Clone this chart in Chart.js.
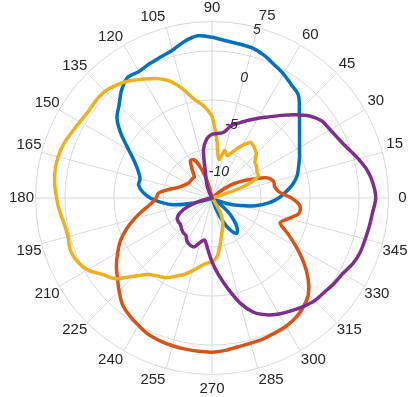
<!DOCTYPE html>
<html>
<head>
<meta charset="utf-8">
<script src="https://cdn.jsdelivr.net/npm/chart.js@4/dist/chart.umd.min.js"></script>
<style>
  html, body { margin: 0; padding: 0; background: #fff; }
  #wrap { width: 417px; height: 397px; }
</style>
</head>
<body>
<div id="wrap"><canvas id="polar"></canvas></div>
<script>
// angles in degrees, counter-clockwise from east, 5 degree steps
const angles = [
  0, 5, 10, 15, 20, 25, 30, 35, 40, 45, 50, 55,
  60, 65, 70, 75, 80, 85, 90, 95, 100, 105, 110, 115,
  120, 125, 130, 135, 140, 145, 150, 155, 160, 165, 170, 175,
  180, 185, 190, 195, 200, 205, 210, 215, 220, 225, 230, 235,
  240, 245, 250, 255, 260, 265, 270, 275, 280, 285, 290, 295,
  300, 305, 310, 315, 320, 325, 330, 335, 340, 345, 350, 355
]

const blue = [
  -6.2, -5.4, -4.6, -4.0, -3.6, -3.15, -2.7, -2.1, -1.35, -0.4, 0.7, 1.1,
  1.6, 2.0, 2.5, 2.85, 2.95, 3.1, 3.4, 3.6, 3.2, 2.6, 2.3, 2.1,
  1.9, 2.0, 1.35, 0.4, -0.35, -1.7, -3.2, -4.3, -5.0, -5.4, -5.4, -5.9,
  -6.7, -7.8, -9.0, -10.9, -12.5, -13, -13, -13, -13, -13, -13, -13,
  -13, -13, -13, -13, -13, -13, -13, -13, -13, -13, -11.8, -10.3,
  -9.2, -8.6, -9.0, -9.9, -11.0, -12.5, -13, -12.5, -11.3, -10.0, -8.5, -7.2
]

const orange = [
  -4.9, -6.1, -6.5, -6.5, -7.0, -8.5, -9.6, -10.7, -12, -13, -13, -13,
  -13, -13, -13, -13, -13, -13, -13, -13, -13, -11.5, -9.8, -8.7,
  -8.6, -9.5, -10.2, -10.2, -10.2, -10.2, -10.1, -9.9, -9.6, -9.1, -8.3, -7.5,
  -7.3, -6.8, -5.9, -4.8, -3.7, -2.7, -1.9, -1.1, -0.4, 0.4, 1.2, 1.65,
  2.0, 2.35, 2.5, 2.6, 2.65, 2.7, 2.72, 2.6, 2.4, 2.32, 2.28, 2.2,
  2.1, 1.9, 1.5, 0.9, -0.2, -1.6, -3.1, -4.5, -5.6, -4.9, -4.0, -4.0
]

const yellow = [
  -13, -13, -13, -12.5, -9.5, -7.8, -7.7, -7.45, -7.3, -6.6, -6.3, -6.1,
  -6.8, -7.7, -8.4, -8.0, -9.0, -7.2, -4.7, -3.6, -2.8, -1.5, -0.3, 0.45,
  1.0, 1.6, 2.07, 2.4, 2.45, 2.4, 2.55, 2.8, 3.1, 3.25, 3.25, 3.1,
  2.85, 2.6, 2.3, 2.2, 2.4, 2.2, 1.65, 0.6, -0.2, -1.7, -2.8, -3.3,
  -3.6, -4.2, -4.7, -5.3, -5.9, -6.3, -6.5, -7.0, -8.2, -9.2, -9.8, -10.5,
  -11.3, -12.5, -13, -13, -13, -13, -13, -13, -13, -13, -13, -13
]

const purple = [
  3.7, 3.5, 3.1, 2.45, 1.75, 1.25, 0.92, 0.68, 0.0, -1.0, -2.0, -2.9,
  -3.6, -4.25, -4.85, -5.35, -6.2, -6.4, -6.5, -6.95, -8.0, -10.5, -11.4, -12.2,
  -13, -13, -13, -13, -13, -13, -13, -13, -13, -13, -13, -13,
  -13, -13, -12.5, -11.5, -10.3, -9.4, -8.9, -8.8, -8.8, -8.6, -8.4, -8.35,
  -7.9, -7.7, -7.7, -8.3, -8.65, -7.8, -6.5, -5.1, -3.6, -1.9, -0.6, 0.15,
  0.65, 1.05, 1.45, 1.8, 1.95, 2.2, 2.4, 2.85, 3.1, 3.18, 3.3, 3.45
]

const rTicks = [-10, -5, 0, 5]
const rMin = -13
const rMax = 5
const labelStep = 15 // angle labels and spokes every 15 degrees

// radar goes clockwise from the top, the plot goes counter-clockwise from east:
// walk the angles backwards and start at 90 degrees
const order = angles.map((a, i) => (angles.length - i) % angles.length)
const labels = order.map(i => angles[i])
const toRadar = (arr) => order.map(i => arr[i])

const gridColor = '#d9d9d9'
const textColor = '#262626'
const fontFamily = '"Liberation Sans", Arial, sans-serif'
const labelSize = 15
const labelGap = 14 // centre of an angle label sits this far outside the outer circle

// chart.js aligns point labels by their edge, matlab by their centre:
// pick the padding per label so the text centre lands on the same ring
const measure = document.createElement('canvas').getContext('2d')
measure.font = labelSize + 'px ' + fontFamily
function labelPadding (c) {
  const a = labels[c.index]
  if (a % labelStep !== 0) return 0
  const w = measure.measureText(String(a)).width
  const t = a * Math.PI / 180
  return labelGap - Math.abs(Math.cos(t)) * w / 2 - Math.abs(Math.sin(t)) * labelSize / 2
}

// r tick labels, upright, along the 75 degree spoke
const rTickLabels = {
  id: 'rTickLabels',
  afterDraw (chart) {
    const scale = chart.scales.r
    const idx = labels.indexOf(75)
    const ctx = chart.ctx
    ctx.save()
    ctx.font = 'italic 14px ' + fontFamily
    ctx.fillStyle = textColor
    ctx.textAlign = 'center'
    ctx.textBaseline = 'middle'
    rTicks.forEach(v => {
      const d = scale.getDistanceFromCenterForValue(v)
      const p = scale.getPointPosition(idx, d - 3)
      ctx.fillText(String(v), p.x, p.y)
    })
    ctx.restore()
  }
}

const mk = (label, data, color, ord) => ({
  label,
  data: toRadar(data),
  borderColor: color,
  backgroundColor: color,
  borderWidth: 3.5,
  fill: false,
  pointRadius: 0,
  tension: 0.3,
  order: ord
})

const chart = new Chart(document.getElementById('polar'), {
  type: 'radar',
  data: {
    labels,
    datasets: [
      mk('Series 1', blue, '#0072BD', 4),
      mk('Series 2', orange, '#D95319', 3),
      mk('Series 3', yellow, '#EDB120', 2),
      mk('Series 4', purple, '#7E2F8E', 1)
    ]
  },
  options: {
    responsive: true,
    maintainAspectRatio: false,
    animation: false,
    layout: { padding: { top: 0, bottom: 0, left: 0, right: -11 } },
    plugins: {
      legend: { display: false },
      tooltip: { enabled: false }
    },
    scales: {
      r: {
        min: rMin,
        max: rMax,
        bounds: 'data',
        startAngle: 90,
        ticks: { stepSize: 5, includeBounds: false, display: false },
        grid: { circular: true, color: gridColor, lineWidth: 1 },
        angleLines: {
          color: gridColor,
          lineWidth: (c) => (labels[c.index] % labelStep === 0 ? 1 : 0)
        },
        pointLabels: {
          padding: labelPadding,
          color: textColor,
          font: { family: fontFamily, size: labelSize, lineHeight: 1 },
          callback: (v) => (v % labelStep === 0 ? String(v) : '')
        }
      }
    }
  },
  plugins: [rTickLabels]
})
</script>
</body>
</html>
